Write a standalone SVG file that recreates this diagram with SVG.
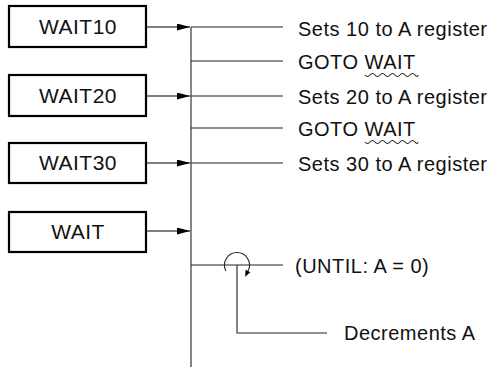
<svg xmlns="http://www.w3.org/2000/svg" width="494" height="368" viewBox="0 0 494 368">
<style>
.box{fill:#fff;stroke:#000;stroke-width:2.2}
.t{font-family:"Liberation Sans",Arial,sans-serif;font-size:20px;letter-spacing:0.5px;fill:#111}
.bt{text-anchor:middle;font-size:21px}
.ln{stroke:#222;stroke-width:1.1;fill:none}
</style>
<defs>
<marker id="ah" markerWidth="13" markerHeight="7" refX="13" refY="3.5" orient="auto" markerUnits="userSpaceOnUse">
<path d="M0,0 L13,3.5 L0,7 Z" fill="#000"/>
</marker>
</defs>
<g id="wait10"><rect class="box" x="9" y="6" width="137" height="41"/><text class="t bt" x="78" y="34">WAIT10</text></g>
<g id="wait20"><rect class="box" x="9" y="75" width="137" height="41"/><text class="t bt" x="78" y="103">WAIT20</text></g>
<g id="wait30"><rect class="box" x="9" y="143" width="137" height="40"/><text class="t bt" x="78" y="170">WAIT30</text></g>
<g id="wait"><rect class="box" x="9" y="212" width="137" height="40"/><text class="t bt" x="78" y="239">WAIT</text></g>
<g id="connectors">
<line class="ln" x1="191" y1="27" x2="191" y2="367"/>
<line x1="146" y1="27" x2="190" y2="27" stroke="#000" stroke-width="1.1" marker-end="url(#ah)"/>
<line x1="146" y1="96" x2="190" y2="96" stroke="#000" stroke-width="1.1" marker-end="url(#ah)"/>
<line x1="146" y1="163" x2="190" y2="163" stroke="#000" stroke-width="1.1" marker-end="url(#ah)"/>
<line x1="146" y1="231" x2="190" y2="231" stroke="#000" stroke-width="1.1" marker-end="url(#ah)"/>
<line class="ln" x1="191" y1="27" x2="283" y2="27"/>
<line class="ln" x1="191" y1="61" x2="283" y2="61"/>
<line class="ln" x1="191" y1="96" x2="283" y2="96"/>
<line class="ln" x1="191" y1="128" x2="283" y2="128"/>
<line class="ln" x1="191" y1="163" x2="283" y2="163"/>
<line class="ln" x1="191" y1="265" x2="283" y2="265"/>
<path class="ln" d="M226,271 A12.5 12.5 0 1 1 248,271"/>
<polygon points="245.1,276.8 250.4,272.3 245.6,269.7" fill="#000"/>
<polyline class="ln" points="237,265 237,333 327,333"/>
<path class="ln" d="M365,75 q2.5,3 5,0 t5,0 t5,0 t5,0 t5,0 t5,0 t5,0 t5,0 t5,0 t5,0 t3,0"/>
<path class="ln" d="M365,142 q2.5,3 5,0 t5,0 t5,0 t5,0 t5,0 t5,0 t5,0 t5,0 t5,0 t5,0 t3,0"/>
</g>
<g id="labels">
<text class="t" x="298" y="36">Sets 10 to A register</text>
<text class="t" x="298" y="69">GOTO WAIT</text>
<text class="t" x="298" y="104">Sets 20 to A register</text>
<text class="t" x="298" y="136">GOTO WAIT</text>
<text class="t" x="298" y="171">Sets 30 to A register</text>
<text class="t" x="295" y="273">(UNTIL: A = 0)</text>
<text class="t" x="344" y="340">Decrements A</text>
</g>
</svg>
